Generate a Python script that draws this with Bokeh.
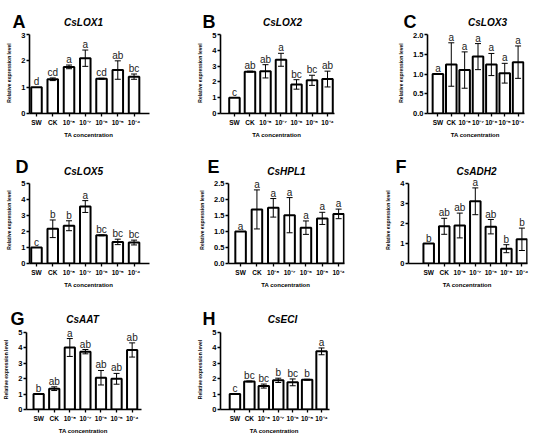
from bokeh.plotting import figure
from bokeh.layouts import column, row
from bokeh.models import (ColumnDataSource, FixedTicker, LabelSet, Whisker,
                          TeeHead, Range1d, NumeralTickFormatter)
from bokeh.core.properties import value
from bokeh.embed import file_html
from bokeh.resources import INLINE

# ---------------- data ----------------
categories = ["SW", "CK", "10⁻⁸", "10⁻⁷", "10⁻⁶", "10⁻⁵", "10⁻⁴"]
x_title = "TA  concentration"
y_title = "Relative expression level"

genes = ["CsLOX1", "CsLOX2", "CsLOX3", "CsLOX5", "CsHPL1", "CsADH2", "CsAAT", "CsECI"]
panel_letters = ["A", "B", "C", "D", "E", "F", "G", "H"]

lox1_mean = [1.00, 1.30, 1.77, 2.10, 1.32, 1.65, 1.40]
lox1_err = [0.00, 0.05, 0.07, 0.31, 0.02, 0.35, 0.10]
lox1_sig = ["d", "cd", "a", "a", "cd", "ab", "bc"]

lox2_mean = [1.00, 2.65, 2.67, 3.40, 1.84, 2.10, 2.18]
lox2_err = [0.00, 0.03, 0.42, 0.41, 0.30, 0.32, 0.50]
lox2_sig = ["c", "ab", "ab", "a", "bc", "bc", "ab"]

lox3_mean = [1.00, 1.24, 1.10, 1.44, 1.24, 1.02, 1.30]
lox3_err = [0.00, 0.55, 0.46, 0.33, 0.28, 0.25, 0.41]
lox3_sig = ["a", "a", "a", "a", "a", "a", "a"]

lox5_mean = [1.00, 2.17, 2.36, 3.56, 1.76, 1.35, 1.31]
lox5_err = [0.00, 0.55, 0.31, 0.37, 0.03, 0.17, 0.15]
lox5_sig = ["c", "b", "b", "a", "bc", "bc", "bc"]

hpl1_mean = [1.00, 1.69, 1.74, 1.51, 1.12, 1.41, 1.55]
hpl1_err = [0.00, 0.61, 0.29, 0.55, 0.21, 0.19, 0.15]
hpl1_sig = ["a", "a", "a", "a", "a", "a", "a"]

adh2_mean = [1.00, 1.86, 1.90, 3.11, 1.84, 0.74, 1.21]
adh2_err = [0.00, 0.40, 0.62, 0.67, 0.36, 0.20, 0.56]
adh2_sig = ["b", "ab", "ab", "a", "ab", "b", "b"]

aat_mean = [1.00, 1.35, 4.02, 3.75, 2.06, 1.99, 3.86]
aat_err = [0.00, 0.12, 0.58, 0.14, 0.47, 0.35, 0.46]
aat_sig = ["b", "ab", "a", "ab", "ab", "ab", "ab"]

eci_mean = [1.00, 1.82, 1.52, 1.89, 1.76, 1.93, 3.77]
eci_err = [0.00, 0.03, 0.13, 0.14, 0.22, 0.03, 0.22]
eci_sig = ["c", "bc", "bc", "b", "bc", "b", "a"]

yticks_lox1 = [0, 1, 2, 3]
yticks_5 = [0, 1, 2, 3, 4, 5]
yticks_lox3 = [0.0, 0.5, 1.0, 1.5, 2.0]
yticks_hpl1 = [0.0, 0.5, 1.0, 1.5, 2.0, 2.5]
yticks_adh2 = [0, 1, 2, 3, 4]

means = [lox1_mean, lox2_mean, lox3_mean, lox5_mean, hpl1_mean, adh2_mean, aat_mean, eci_mean]
errs = [lox1_err, lox2_err, lox3_err, lox5_err, hpl1_err, adh2_err, aat_err, eci_err]
sigs = [lox1_sig, lox2_sig, lox3_sig, lox5_sig, hpl1_sig, adh2_sig, aat_sig, eci_sig]
yticks = [yticks_lox1, yticks_5, yticks_lox3, yticks_5, yticks_hpl1, yticks_adh2, yticks_5, yticks_5]
yfmt = ["0", "0", "0.0", "0", "0.0", "0", "0", "0"]

# ---------------- layout (styling, not data) ----------------
COL_W = [180, 180, 190]
COL_X = [0, 180, 360]
TOTAL_W = sum(COL_W)
ROW_H = [145, 145, 146]
# (axis top from row start, axis height, free frame space above axis top,
#  title baseline from row start, letter baseline from row start)
ROW_V = [(34, 79, 2, 21.7, 21.5), (38, 80, 7, 25.7, 21.0), (42, 80, 3, 29.3, 28.5)]
# left border, px per category, x range start/end, title centre, letter left (cell-local px)
LAYOUT = [
    (29, 16.2, -0.43, 6.95, 83, 12),
    (40, 15.5, -0.90, 6.45, 102, 22),
    (67, 13.3, -0.78, 6.48, 127, 43),
    (29, 16.2, -0.43, 6.95, 83, 15),
    (48, 16.3, -0.74, 6.36, 106, 27),
    (48, 15.5, -1.30, 6.36, 116, 35),
    (23, 16.0, -0.78, 6.60, 82, 10),
    (40, 14.5, -1.00, 6.55, 102, 22),
]
FONT = "Liberation Sans"


def make_header(r, idx):
    top, fh, ext, tb, lb = ROW_V[r]
    hh = top - ext
    p = figure(width=TOTAL_W, height=hh, x_range=Range1d(0, TOTAL_W), y_range=Range1d(0, hh),
               output_backend="svg", toolbar_location=None, title=None,
               x_axis_type=None, y_axis_type=None,
               min_border_left=0, min_border_right=0, min_border_top=0, min_border_bottom=0)
    p.outline_line_color = None
    p.grid.visible = False
    lx = [COL_X[c] + LAYOUT[i][5] for c, i in enumerate(idx)]
    tx = [COL_X[c] + LAYOUT[i][4] for c, i in enumerate(idx)]
    p.text(x=lx, y=[hh - lb] * len(idx), text=[panel_letters[i] for i in idx],
           text_font=value(FONT), text_font_size=value("18px"), text_font_style=value("bold"),
           text_align=value("left"), text_baseline=value("alphabetic"), text_color="black")
    p.text(x=tx, y=[hh - tb] * len(idx), text=[genes[i] for i in idx],
           text_font=value(FONT), text_font_size=value("10px"), text_font_style=value("bold italic"),
           text_align=value("center"), text_baseline=value("alphabetic"), text_color="black")
    return p


def make_panel(i):
    r, c = divmod(i, 3)
    top, fh, ext, tb, lb = ROW_V[r]
    hh = top - ext
    ph = ROW_H[r] - hh
    cw = COL_W[c]
    left, s, x0, x1, tx, lx = LAYOUT[i]
    fw = round((x1 - x0) * s)
    right = cw - left - fw
    bottom = ph - ext - fh
    ymax = yticks[i][-1]
    ytop = ymax * (fh + ext) / fh

    p = figure(width=cw, height=ph, x_range=Range1d(x0, x1), y_range=Range1d(0, ytop),
               output_backend="svg", toolbar_location=None, title=None,
               min_border_left=left, min_border_right=right,
               min_border_top=0, min_border_bottom=bottom)
    p.outline_line_color = None
    p.grid.visible = False
    p.background_fill_color = "white"
    p.border_fill_color = "white"

    xs = list(range(len(categories)))
    m = means[i]
    e = errs[i]
    src = ColumnDataSource(dict(x=xs, top=m, lab_y=[a + b for a, b in zip(m, e)], sig=sigs[i]))
    p.vbar(x="x", top="top", width=10.5 / s, bottom=0, source=src,
           fill_color="white", line_color="black", line_width=2)

    ex = [x for x, v in zip(xs, e) if v > 0]
    em = [a for a, v in zip(m, e) if v > 0]
    ev = [v for v in e if v > 0]
    esrc = ColumnDataSource(dict(x=ex, up=[a + b for a, b in zip(em, ev)],
                                 lo=[a - b for a, b in zip(em, ev)]))
    w = Whisker(source=esrc, base="x", upper="up", lower="lo", dimension="height",
                line_color="black", line_width=1, level="overlay",
                upper_head=TeeHead(size=6, line_color="black", line_width=1),
                lower_head=TeeHead(size=6, line_color="black", line_width=1))
    p.add_layout(w)

    ls = LabelSet(x="x", y="lab_y", text="sig", source=src, y_offset=2,
                  text_align="center", text_baseline="alphabetic",
                  text_font=value(FONT), text_font_size="10px", text_color="#222222")
    p.add_layout(ls)

    xa = p.xaxis[0]
    ya = p.yaxis[0]
    xa.ticker = FixedTicker(ticks=xs)
    xa.major_label_overrides = {k: cat for k, cat in zip(xs, categories)}
    ya.ticker = FixedTicker(ticks=yticks[i])
    ya.formatter = NumeralTickFormatter(format=yfmt[i])
    ya.bounds = (0, ymax)
    for ax in (xa, ya):
        ax.axis_line_width = 1.6
        ax.axis_line_color = "black"
        ax.major_tick_line_width = 1.3
        ax.major_tick_line_color = "black"
        ax.major_tick_out = 3
        ax.major_tick_in = 0
        ax.minor_tick_out = 0
        ax.minor_tick_in = 0
        ax.major_label_text_font = FONT
        ax.major_label_text_font_style = "bold"
        ax.major_label_text_color = "black"
        ax.axis_label_text_font = FONT
        ax.axis_label_text_font_style = "bold"
        ax.axis_label_text_color = "black"
    xa.major_label_text_font_size = "6.5px"
    xa.major_label_standoff = 2
    xa.axis_label = x_title
    xa.axis_label_text_font_size = "6px"
    xa.axis_label_standoff = 3
    ya.major_label_text_font_size = "7.5px"
    ya.major_label_standoff = 1
    ya.axis_label = y_title
    ya.axis_label_text_font_size = "5px"
    ya.axis_label_standoff = 6
    return p


figs = [make_panel(i) for i in range(8)]
page = column(
    make_header(0, [0, 1, 2]), row(figs[0], figs[1], figs[2]),
    make_header(1, [3, 4, 5]), row(figs[3], figs[4], figs[5]),
    make_header(2, [6, 7]), row(figs[6], figs[7]),
)

open("out.html", "w").write(file_html(page, INLINE))
